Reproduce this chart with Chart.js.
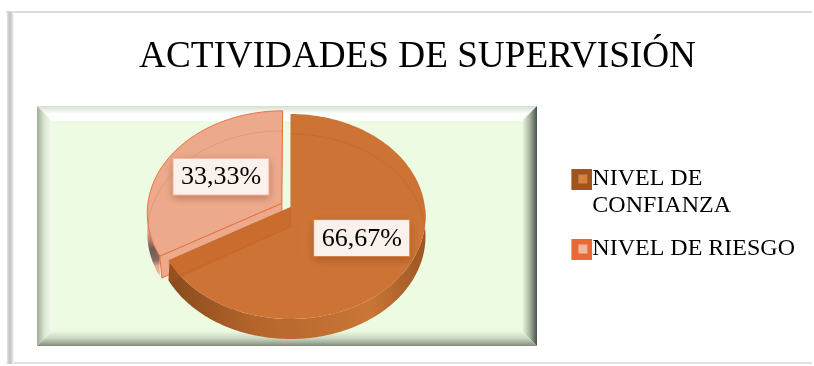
<!DOCTYPE html>
<html>
<head>
<meta charset="utf-8">
<style>
html, body { margin: 0; padding: 0; background: #fff; }
#wrap { width: 814px; height: 366px; }
</style>
<script src="https://cdn.jsdelivr.net/npm/chart.js@4"></script>
</head>
<body>
<div id="wrap"><canvas id="pieChart" width="814" height="366"></canvas></div>
<script>
const titleText = 'ACTIVIDADES DE SUPERVISIÓN';
const categories = [['NIVEL DE', 'CONFIANZA'], 'NIVEL DE RIESGO'];
const values = [66.67, 33.33];
const valueLabels = ['66,67%', '33,33%'];

const serif = '"Liberation Serif", "Times New Roman", serif';

// tilted disc: where the centre lands and how much the far side shrinks
const disc = { x: 290.5, y: 207, a: 134.4, b: 101.6, k: 0.0926, depth: 20 };
const plotBox = { l: 37, t: 106, r: 537, b: 346, bevel: 15 };

const styles = [
    { top: '#cd7335', line: '#b8642a', label: '#e07a3a', r: 0.595,
      side: [[0, '#8a4c1c'], [0.3, '#b5652c'], [0.75, '#c97637'], [1, '#9a5522']] },
    { top: '#eca98c', line: '#e8703f', label: '#f2a283', r: 0.54,
      side: [[0, '#eca98c'], [0.4, '#e0a088'], [0.62, '#6e5a55'], [0.78, '#8a6a60'], [0.86, '#eca98c'], [1, '#eca98c']] }
];

function project(X, Y, lift) {
    const w = 1 + disc.k * Y;
    return [disc.x + disc.a * X / w, disc.y - disc.b * Y / w + (lift || 0)];
}

function rim(theta, shift, lift) {
    return project(shift[0] + Math.sin(theta), shift[1] + Math.cos(theta), lift);
}

function arcInfo(arc) {
    const start = arc.startAngle + Math.PI / 2;
    const end = arc.endAngle + Math.PI / 2;
    const mid = (start + end) / 2;
    const off = (arc.options.offset || 0) / arc.outerRadius;
    return { start, end, mid, shift: [off * Math.sin(mid), off * Math.cos(mid)] };
}

function facePath(ctx, info, lift) {
    const c = project(info.shift[0], info.shift[1], lift);
    ctx.beginPath();
    ctx.moveTo(c[0], c[1]);
    for (let t = info.start; t < info.end; t += 0.02) {
        const p = rim(t, info.shift, lift);
        ctx.lineTo(p[0], p[1]);
    }
    const e = rim(info.end, info.shift, lift);
    ctx.lineTo(e[0], e[1]);
    ctx.closePath();
}

function drawSide(ctx, info, st) {
    // only the near half of the rim shows its wall
    const from = Math.max(info.start, Math.PI / 2);
    const to = Math.min(info.end, Math.PI * 1.5);
    if (to <= from) return;
    const p0 = rim(to, info.shift, 0);
    const p1 = rim(from, info.shift, disc.depth);
    const g = ctx.createLinearGradient(p0[0], p0[1], p1[0], p1[1]);
    st.side.forEach(s => g.addColorStop(s[0], s[1]));
    ctx.beginPath();
    for (let t = from; t < to; t += 0.02) {
        const p = rim(t, info.shift, 0);
        ctx.lineTo(p[0], p[1]);
    }
    for (let t = to; t > from; t -= 0.02) {
        const p = rim(t, info.shift, disc.depth);
        ctx.lineTo(p[0], p[1]);
    }
    ctx.closePath();
    ctx.fillStyle = g;
    ctx.fill();
}

// flat face where a slice was cut, from the centre to the rim at the given angle
function cutPath(ctx, info, theta) {
    const a = project(info.shift[0], info.shift[1]);
    const b = rim(theta, info.shift);
    ctx.beginPath();
    ctx.moveTo(a[0], a[1]);
    ctx.lineTo(b[0], b[1]);
    ctx.lineTo(b[0] + 2, b[1] + disc.depth + 2);
    ctx.lineTo(a[0], a[1] + disc.depth);
    ctx.closePath();
}

function drawLabel(ctx, info, text, st) {
    const c = project(info.shift[0] + st.r * Math.sin(info.mid), info.shift[1] + st.r * Math.cos(info.mid));
    ctx.font = '26px ' + serif;
    const w = ctx.measureText(text).width + 16;
    const h = 37;
    ctx.save();
    ctx.shadowColor = 'rgba(120,60,20,0.45)';
    ctx.shadowBlur = 8;
    ctx.shadowOffsetY = 3;
    ctx.fillStyle = '#fbf1ec';
    ctx.fillRect(c[0] - w / 2, c[1] - h / 2, w, h);
    ctx.restore();
    ctx.strokeStyle = st.label;
    ctx.lineWidth = 1;
    ctx.strokeRect(c[0] - w / 2, c[1] - h / 2, w, h);
    ctx.fillStyle = '#000';
    ctx.textAlign = 'center';
    ctx.textBaseline = 'middle';
    ctx.fillText(text, c[0], c[1] + 1);
}

function trapezoid(ctx, pts, g) {
    ctx.beginPath();
    pts.forEach((p, i) => i ? ctx.lineTo(p[0], p[1]) : ctx.moveTo(p[0], p[1]));
    ctx.closePath();
    ctx.fillStyle = g;
    ctx.fill();
}

function band(ctx, x0, y0, x1, y1, stops) {
    const g = ctx.createLinearGradient(x0, y0, x1, y1);
    stops.forEach((s, i) => g.addColorStop(i / (stops.length - 1), s));
    return g;
}

// outer chart frame and the bevelled plot panel
const framePlugin = {
    id: 'frame',
    beforeDraw(chart) {
        const ctx = chart.ctx;
        ctx.save();
        ctx.fillStyle = '#fff';
        ctx.fillRect(0, 0, 814, 366);
        ctx.fillStyle = '#dcdcdc';
        ctx.fillRect(6, 11, 806, 2);
        ctx.fillStyle = '#e2e2e2';
        ctx.fillRect(6, 362, 806, 2);
        ctx.fillStyle = band(ctx, 7, 0, 14, 0, ['#e4e4e4', '#c4c4c4', '#d2d2d2', '#ffffff']);
        ctx.fillRect(7, 12, 7, 352);

        const p = plotBox, v = p.bevel;
        ctx.fillStyle = '#edfbe3';
        ctx.fillRect(p.l, p.t, p.r - p.l, p.b - p.t);
        trapezoid(ctx, [[p.l, p.t], [p.r, p.t], [p.r - v, p.t + v], [p.l + v, p.t + v]],
            band(ctx, 0, p.t, 0, p.t + v, ['#d5dfcf', '#fbfefa', '#ffffff']));
        trapezoid(ctx, [[p.l, p.t], [p.l + v, p.t + v], [p.l + v, p.b - v], [p.l, p.b]],
            band(ctx, p.l, 0, p.l + v, 0, ['#9fad98', '#dbe8d2', '#f4fcee']));
        trapezoid(ctx, [[p.r, p.t], [p.r, p.b], [p.r - v, p.b - v], [p.r - v, p.t + v]],
            band(ctx, p.r, 0, p.r - v, 0, ['#45524a', '#a9b6a2', '#edfbe3']));
        trapezoid(ctx, [[p.l, p.b], [p.r, p.b], [p.r - v, p.b - v], [p.l + v, p.b - v]],
            band(ctx, 0, p.b, 0, p.b - v, ['#7f8d7a', '#c9d6c1', '#edfbe3']));
        ctx.restore();
    }
};

// the library lays out the arcs, this draws them on the tilted disc
const tiltedPiePlugin = {
    id: 'tiltedPie',
    beforeDatasetsDraw(chart) {
        const ctx = chart.ctx;
        const arcs = chart.getDatasetMeta(0).data;
        const infos = arcs.map(arcInfo);
        ctx.save();

        // far slice first, the bigger one sits over it
        drawSide(ctx, infos[1], styles[1]);
        cutPath(ctx, infos[1], infos[1].start);
        ctx.fillStyle = styles[1].top;
        ctx.fill();
        ctx.strokeStyle = styles[1].line;
        ctx.lineWidth = 1;
        ctx.stroke();
        facePath(ctx, infos[1], 0);
        ctx.fillStyle = styles[1].top;
        ctx.fill();
        ctx.stroke();

        drawSide(ctx, infos[0], styles[0]);
        facePath(ctx, infos[0], 0);
        ctx.fillStyle = styles[0].top;
        ctx.fill();

        // wall seen through the slices
        ctx.strokeStyle = 'rgba(150,70,30,0.14)';
        ctx.lineWidth = 1;
        infos.forEach(info => {
            ctx.save();
            facePath(ctx, info, 0);
            ctx.clip();
            facePath(ctx, info, disc.depth);
            ctx.stroke();
            ctx.restore();
        });
        cutPath(ctx, infos[0], infos[0].end);
        ctx.fillStyle = 'rgba(190,90,30,0.28)';
        ctx.fill();

        infos.forEach((info, i) => drawLabel(ctx, info, valueLabels[i], styles[i]));
        ctx.restore();
        return false;
    }
};

function legendSwatch(outer, inner) {
    // swatch sits at the right of the canvas so it touches the label text
    const c = document.createElement('canvas');
    c.width = 45;
    c.height = 21;
    const g = c.getContext('2d');
    g.fillStyle = outer;
    g.fillRect(24, 0, 21, 21);
    g.fillStyle = inner;
    g.fillRect(31, 6, 9, 9);
    return c;
}
const swatches = [legendSwatch('#9f5520', '#d98240'), legendSwatch('#e96a35', '#f2b79e')];

new Chart(document.getElementById('pieChart').getContext('2d'), {
    type: 'pie',
    data: {
        labels: categories,
        datasets: [{
            data: values,
            backgroundColor: [styles[0].top, styles[1].top],
            offset: [0, 10],
            radius: disc.a
        }]
    },
    options: {
        responsive: false,
        animation: false,
        layout: { padding: { left: 30, right: 9, top: 31, bottom: -31 } },
        plugins: {
            tooltip: { enabled: false },
            title: {
                display: true,
                text: titleText,
                color: '#000',
                font: { family: serif, size: 37.2, weight: 'normal' },
                padding: { top: 4, bottom: 10 }
            },
            legend: {
                position: 'right',
                labels: {
                    color: '#000',
                    font: { family: serif, size: 24, lineHeight: 1.125 },
                    usePointStyle: true,
                    boxWidth: 21,
                    padding: 16,
                    generateLabels(chart) {
                        return chart.data.labels.map((text, i) => ({
                            text: text,
                            fontColor: '#000',
                            pointStyle: swatches[i],
                            index: i
                        }));
                    }
                }
            }
        }
    },
    plugins: [framePlugin, tiltedPiePlugin]
});
</script>
</body>
</html>
